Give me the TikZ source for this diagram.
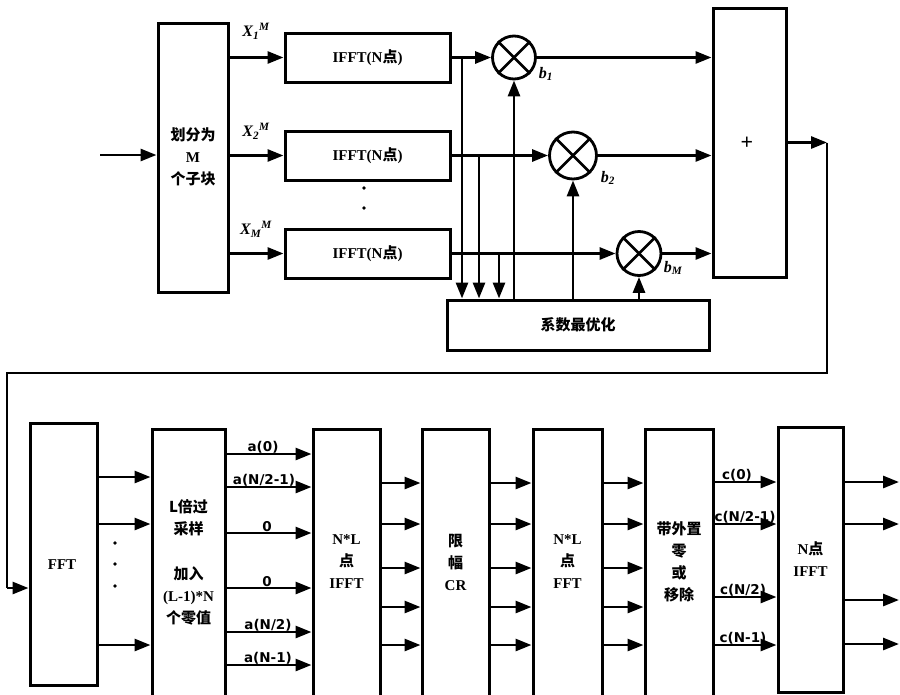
\documentclass[tikz,border=0pt]{standalone}
\usepackage{fontspec}
\setmainfont{Liberation Serif}
\newfontfamily\cjk{Noto Sans CJK SC}
\newfontfamily\lab{DejaVu Sans}
\usetikzlibrary{arrows.meta}
\begin{document}
\begin{tikzpicture}[x=1pt,y=-1pt,
  box/.style={draw, line width=3pt, inner sep=0pt},
  ln/.style={line width=2.8pt},
  arr/.style={line width=2.8pt, -{Triangle[length=16pt,width=12pt]}},
  mul/.style={draw, circle, line width=2.8pt, inner sep=0pt},
  txt/.style={font=\fontsize{15}{22}\selectfont\bfseries, align=center, inner sep=0pt},
  lbl/.style={font=\lab\fontsize{13.5}{13.5}\selectfont\bfseries, inner sep=1pt, anchor=south},
  xl/.style={font=\fontsize{16}{16}\selectfont\bfseries\itshape, inner sep=0pt},
]
\clip (0,0) rectangle (900,694);
\fill[white] (0,0) rectangle (900,694);

% ---------- top part ----------
\node[box, minimum width=70pt, minimum height=269pt] (split) at (193,157.5) {};
\node[txt] (splitt) at (193,156.5) {{\cjk 划分为}\\M\\{\cjk 个子块}};
\node[box, minimum width=165pt, minimum height=49pt] (ifft1) at (367.5,57.5) {};
\node[box, minimum width=165pt, minimum height=49pt] (ifft2) at (367.5,155.5) {};
\node[box, minimum width=165pt, minimum height=49pt] (ifft3) at (367.5,253.5) {};
\node[txt] (ifft1t) at (367.5,57.5) {IFFT(N{\cjk 点})};
\node[txt] (ifft2t) at (367.5,155.5) {IFFT(N{\cjk 点})};
\node[txt] (ifft3t) at (367.5,253.5) {IFFT(N{\cjk 点})};
\node[mul, minimum size=43pt] (m1) at (514,57.5) {};
\node[mul, minimum size=47pt] (m2) at (573,155.5) {};
\node[mul, minimum size=44pt] (m3) at (639,253.5) {};
\foreach \m in {m1,m2,m3}{
  \draw[ln] (\m.north west) -- (\m.south east);
  \draw[ln] (\m.north east) -- (\m.south west);
}
\node[box, minimum width=262pt, minimum height=50pt] (opt) at (578,325) {};
\node[txt] (optt) at (578,325) {\cjk 系数最优化};
\node[box, minimum width=73pt, minimum height=269pt] (sum) at (749.5,142.5) {};
\node[txt, font=\fontsize{22}{22}\selectfont\bfseries] (sumt) at (747,143) {+};

\node[xl] (x1) at (256,31) {X\textsubscript{1}\textsuperscript{M}};
\node[xl] (x2) at (256,131) {X\textsubscript{2}\textsuperscript{M}};
\node[xl] (x3) at (256,229) {X\textsubscript{M}\textsuperscript{M}};
\node[xl] (b1) at (546,74) {b\textsubscript{1}};
\node[xl] (b2) at (608,178) {b\textsubscript{2}};
\node[xl] (b3) at (673,268) {b\textsubscript{M}};
\fill (364,188) circle (1.8pt);
\fill (364,208) circle (1.8pt);

\coordinate (in) at (100,155);
\draw[arr] (in) -- (in -| split.west);
\draw[arr] (split.east |- ifft1.west) -- (ifft1.west);
\draw[arr] (split.east |- ifft2.west) -- (ifft2.west);
\draw[arr] (split.east |- ifft3.west) -- (ifft3.west);
\draw[arr] (ifft1.east) -- (m1.west);
\draw[arr] (ifft2.east) -- (m2.west);
\draw[arr] (ifft3.east) -- (m3.west);
\coordinate (bx1) at (462,0);
\coordinate (bx2) at (479,0);
\coordinate (bx3) at (499,0);
\draw[arr] (ifft1.east -| bx1) -- (opt.north -| bx1);
\draw[arr] (ifft2.east -| bx2) -- (opt.north -| bx2);
\draw[arr] (ifft3.east -| bx3) -- (opt.north -| bx3);
\draw[arr] (opt.north -| m1.south) -- (m1.south);
\draw[arr] (opt.north -| m2.south) -- (m2.south);
\draw[arr] (opt.north -| m3.south) -- (m3.south);
\draw[arr] (m1.east) -- (m1.east -| sum.west);
\draw[arr] (m2.east) -- (m2.east -| sum.west);
\draw[arr] (m3.east) -- (m3.east -| sum.west);

\coordinate (fb) at (827,0);
\coordinate (fbl) at (7,373);
\coordinate (fin) at (7,588);
\draw[arr] (sum.east) -- (sum.east -| fb);

% ---------- bottom part ----------
\node[box, minimum width=67pt, minimum height=262pt] (fft) at (63.5,554) {};
\node[txt] (fftt) at (62,565) {FFT};
\node[box, minimum width=73pt, minimum height=276pt] (os) at (188.5,567) {};
\node[txt] (ost) at (188.5,562) {{\cjk L倍过}\\{\cjk 采样}\\[23pt]{\cjk 加入}\\(L-1)*N\\{\cjk 个零值}};
\node[box, minimum width=67pt, minimum height=276pt] (nli) at (346.5,567) {};
\node[txt] (nlit) at (346.5,561.5) {N*L\\{\cjk 点}\\IFFT};
\node[box, minimum width=67pt, minimum height=276pt] (cr) at (455.5,567) {};
\node[txt] (crt) at (455.5,562) {{\cjk 限}\\{\cjk 幅}\\CR};
\node[box, minimum width=69pt, minimum height=276pt] (nlf) at (567.5,567) {};
\node[txt] (nlft) at (567.5,562) {N*L\\{\cjk 点}\\FFT};
\node[box, minimum width=68pt, minimum height=276pt] (zr) at (679,567) {};
\node[txt] (zrt) at (679,561.5) {{\cjk 带外置}\\{\cjk 零}\\{\cjk 或}\\{\cjk 移除}};
\node[box, minimum width=65pt, minimum height=265pt] (nif) at (810.5,559.5) {};
\node[txt] (nift) at (810.5,559) {N{\cjk 点}\\IFFT};

\draw[ln] (sum.east -| fb) -- (fb |- fbl) -- (fbl) -- (fin);
\draw[arr] (fin) -- (fin -| fft.west);

\foreach \y in {477,524,645} \draw[arr] (fft.east |- 0,\y) -- (os.west |- 0,\y);
\fill (115,543) circle (1.8pt);
\fill (115,564) circle (1.8pt);
\fill (115,586) circle (1.8pt);

\foreach \y in {454,487,533,588,632,665} \draw[arr] (os.east |- 0,\y) -- (nli.west |- 0,\y);
\node[lbl] (a1) at (263,454) {a(0)};
\node[lbl] (a2) at (264,487) {a(N/2-1)};
\node[lbl] (a3) at (267,533) {0};
\node[lbl] (a4) at (267,588) {0};
\node[lbl] (a5) at (268,632) {a(N/2)};
\node[lbl] (a6) at (268,665) {a(N-1)};

\foreach \y in {483,524,568,607,645}{
  \draw[arr] (nli.east |- 0,\y) -- (cr.west |- 0,\y);
  \draw[arr] (cr.east |- 0,\y) -- (nlf.west |- 0,\y);
  \draw[arr] (nlf.east |- 0,\y) -- (zr.west |- 0,\y);
}
\foreach \y in {482,524,597,645} \draw[arr] (zr.east |- 0,\y) -- (nif.west |- 0,\y);
\node[lbl] (c1) at (737,482) {c(0)};
\node[lbl] (c2) at (745,524) {c(N/2-1)};
\node[lbl] (c3) at (743,597) {c(N/2)};
\node[lbl] (c4) at (743,645) {c(N-1)};

\coordinate (rt) at (899,0);
\foreach \y in {482,524,600,644} \draw[arr] (nif.east |- 0,\y) -- (rt |- 0,\y);
\end{tikzpicture}
\end{document}
